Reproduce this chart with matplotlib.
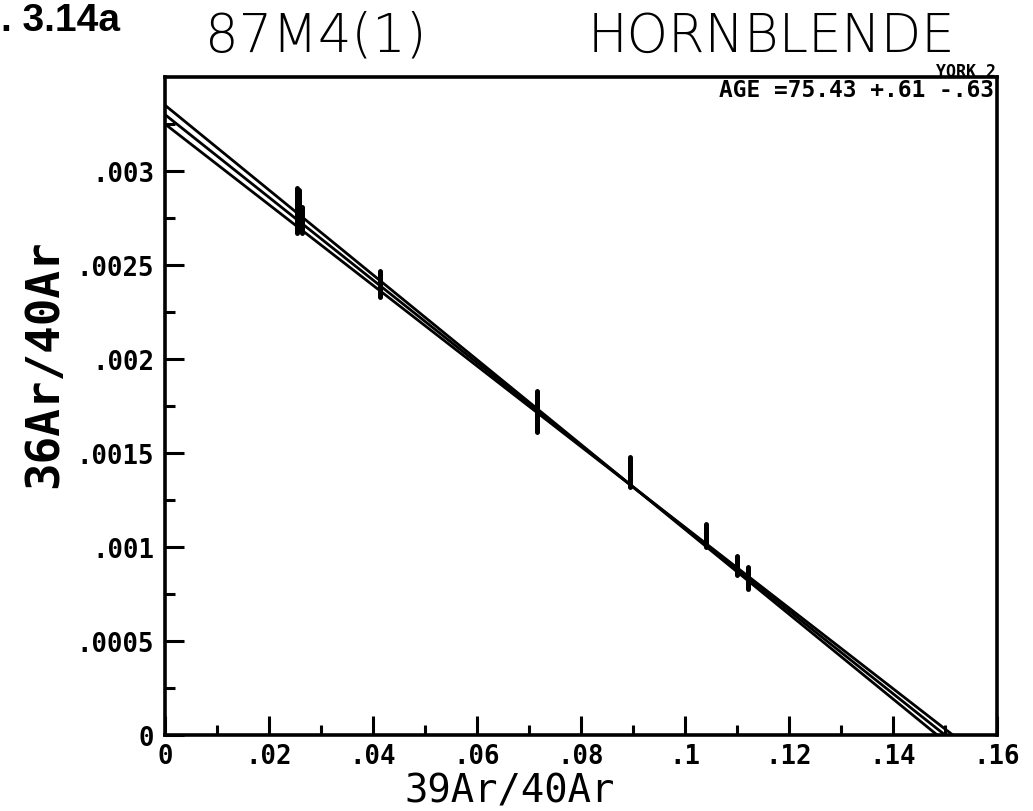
import matplotlib
matplotlib.use("Agg")
import matplotlib.pyplot as plt
import numpy as np

# Measured isotope ratios (39Ar/40Ar, 36Ar/40Ar) with 1-sigma errors on 36/40
x_ratio = [0.0254, 0.0258, 0.0263, 0.0413, 0.0715, 0.0894, 0.1040, 0.1100, 0.1121]
y_ratio = [0.00279, 0.00280, 0.00274, 0.00240, 0.00172, 0.00140, 0.00106, 0.00090, 0.000835]
y_err = [0.00012, 0.00010, 0.00007, 0.00007, 0.00011, 0.00008, 0.00006, 0.00005, 0.00006]

# York regression: best fit and error envelope (36/40 intercept, 39/40 intercept)
fit_y0 = [0.00335, 0.00330, 0.00325]
fit_x0 = [0.1485, 0.1500, 0.1515]

x_ticks = [0, 0.02, 0.04, 0.06, 0.08, 0.10, 0.12, 0.14, 0.16]
x_ticklabels = ["0", ".02", ".04", ".06", ".08", ".1", ".12", ".14", ".16"]
y_ticks = [0, 0.0005, 0.001, 0.0015, 0.002, 0.0025, 0.003]
y_ticklabels = ["0", ".0005", ".001", ".0015", ".002", ".0025", ".003"]

W, H = 1033, 812
fig = plt.figure(figsize=(W / 100, H / 100), dpi=100)
ax = fig.add_axes([165 / W, (H - 736) / H, 832 / W, (736 - 78) / H])

ink = "black"
mono = ["DejaVu Sans Mono", "DejaVu Sans"]

# regression lines
xx = np.linspace(0, 0.16, 200)
for a, b in zip(fit_y0, fit_x0):
    ax.plot(xx, a * (1 - xx / b), color=ink, lw=2.0, solid_capstyle="round")

# error bars
lc = ax.vlines(x_ratio, np.array(y_ratio) - np.array(y_err),
               np.array(y_ratio) + np.array(y_err), color=ink, lw=3.6)
lc.set_capstyle("round")

ax.set_xlim(0, 0.16)
ax.set_ylim(0, 0.0035)

ax.set_xticks(x_ticks)
ax.set_xticklabels(x_ticklabels)
ax.set_yticks(y_ticks)
ax.set_yticklabels(y_ticklabels)
ax.set_xticks(np.arange(0.01, 0.16, 0.02), minor=True)
ax.set_yticks(np.arange(0.00025, 0.0035, 0.0005), minor=True)

ax.tick_params(axis="both", which="both", direction="in", top=False, right=False,
               width=2.2, color=ink)
ax.tick_params(axis="both", which="major", length=14, pad=8)
ax.tick_params(axis="x", which="major", pad=6)
ax.tick_params(axis="both", which="minor", length=7)
for lab in ax.get_xticklabels() + ax.get_yticklabels():
    lab.set_fontfamily(mono)
    lab.set_fontweight("bold")
    lab.set_fontsize(18.5)

for s in ax.spines.values():
    s.set_linewidth(2.6)
    s.set_color(ink)

ax.set_xlabel("39Ar/40Ar", fontsize=28, family=mono)
ax.xaxis.set_label_coords((510 - 165) / 832, (736 - 803) / 658)
ax.xaxis.label.set_va("baseline")
ax.set_ylabel("36Ar/40Ar", fontsize=33, family=mono, fontweight="bold")
ax.yaxis.set_label_coords((45 - 165) / 832, (736 - 364) / 658)
ax.yaxis.label.set_va("center")

# header texts
fig.text(205 / W, 1 - 52 / H, "87M4(1)", fontsize=38, family=["DejaVu Sans"],
         weight="light", ha="left", va="baseline")
fig.text(955 / W, 1 - 52 / H, "HORNBLENDE", fontsize=38, family=["DejaVu Sans"],
         weight="light", ha="right", va="baseline")
fig.text(1 / W, 1 - 31 / H, ". 3.14a", fontsize=28, family=["Liberation Sans", "DejaVu Sans"],
         weight="bold", ha="left", va="baseline")
fig.text(996 / W, 1 - 77 / H, "YORK 2", fontsize=12, family=mono, weight="bold",
         ha="right", va="baseline")
fig.text(994 / W, 1 - 97 / H, "AGE =75.43 +.61 -.63", fontsize=16.5, family=mono,
         weight="bold", ha="right", va="baseline")

fig.savefig("out.png", dpi=100, facecolor="white")
